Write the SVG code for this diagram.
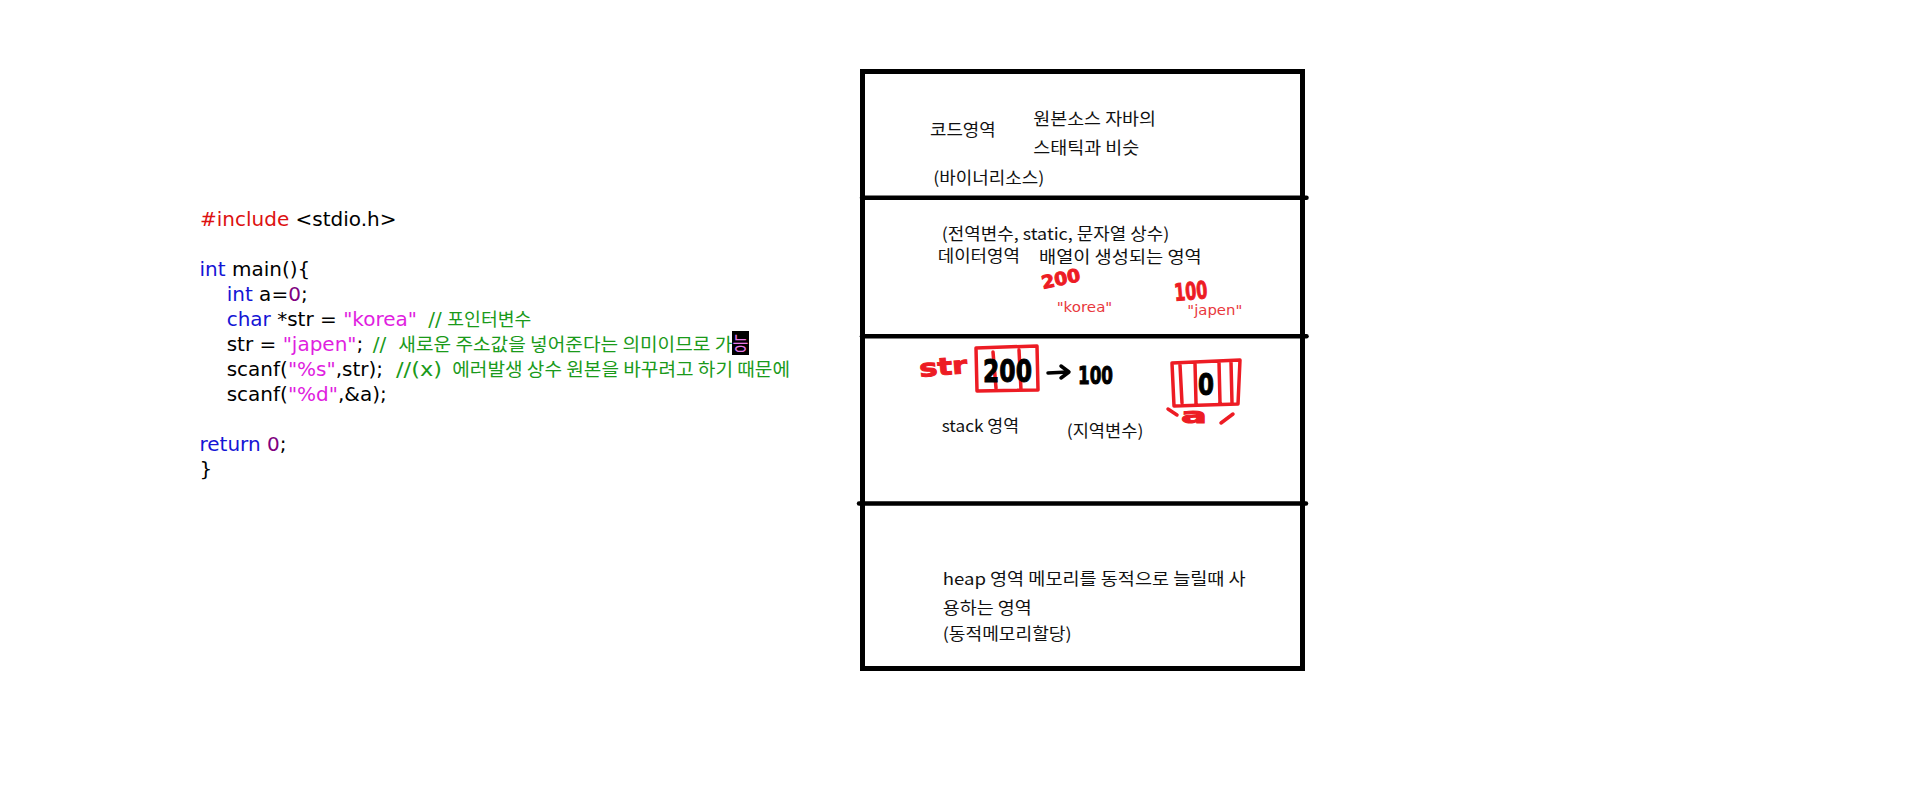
<svg xmlns="http://www.w3.org/2000/svg" width="1913" height="792" viewBox="0 0 1913 792">
<style>
.code{font-family:"DejaVu Sans","Noto Sans CJK KR",sans-serif;font-size:20px;fill:#000}
.kw{fill:#1515d5}
.pp{fill:#dd1111}
.str{fill:#e01ee0}
.num{fill:#800080}
.cm{fill:#1a9a1a;font-family:"DejaVu Sans","Noto Sans CJK KR",sans-serif;font-size:20px}
.cmk{fill:#1a9a1a;font-family:"Noto Sans CJK KR",sans-serif;font-size:18px}
.lbl{font-family:"Noto Sans CJK KR",sans-serif;font-size:16.5px;fill:#111}
.rlbl{font-family:"DejaVu Sans","Noto Sans CJK KR",sans-serif;font-size:14.5px;fill:#e8383d}
.hw{font-family:"DejaVu Sans",sans-serif;font-weight:bold}
.hwr{fill:#ed1c24;stroke:#ed1c24;stroke-width:1}
.hwb{fill:#000;stroke:#000;stroke-width:1}
.frame{fill:none;stroke:#000;stroke-width:5}
.div{stroke:#000;stroke-width:4.5;stroke-linecap:round}
.pen{fill:none;stroke:#ed1c24;stroke-width:3.5;stroke-linecap:round;stroke-linejoin:round}
</style>
<rect width="1913" height="792" fill="#fff"/>

<g id="code">
<text class="code" x="200" y="226"><tspan class="pp">#include</tspan> &lt;stdio.h&gt;</text>
<text class="code" x="199.5" y="276"><tspan class="kw">int</tspan> main(){</text>
<text class="code" x="226.7" y="301"><tspan class="kw">int</tspan> a=<tspan class="num">0</tspan>;</text>
<text class="code" x="226.7" y="326"><tspan class="kw">char</tspan> *str = <tspan class="str">"korea"</tspan></text>
<text class="cm" x="428.3" y="326">//</text>
<text class="cmk" x="447.3" y="326" textLength="84" lengthAdjust="spacingAndGlyphs">포인터변수</text>
<text class="code" x="226.7" y="351">str = <tspan class="str">"japen"</tspan>;</text>
<text class="cm" x="372.7" y="351">//</text>
<text class="cmk" x="398.3" y="351" textLength="334" lengthAdjust="spacingAndGlyphs">새로운 주소값을 넣어준다는 의미이므로 가</text>
<rect x="732" y="331" width="17" height="24" fill="#000"/>
<text x="732.5" y="350" font-family="Noto Sans CJK KR, sans-serif" font-size="18" fill="#e879e8" textLength="16" lengthAdjust="spacingAndGlyphs">능</text>
<text class="code" x="226.7" y="376">scanf(<tspan class="str">"%s"</tspan>,str);</text>
<text class="cm" x="396" y="376" textLength="46" lengthAdjust="spacingAndGlyphs">//(x)</text>
<text class="cmk" x="452.3" y="376" textLength="337.7" lengthAdjust="spacingAndGlyphs">에러발생 상수 원본을 바꾸려고 하기 때문에</text>
<text class="code" x="226.7" y="401">scanf(<tspan class="str">"%d"</tspan>,&amp;a);</text>
<text class="code" x="199.5" y="451"><tspan class="kw">return</tspan> <tspan class="num">0</tspan>;</text>
<text class="code" x="199.5" y="476">}</text>
</g>

<g id="memory">
<rect class="frame" x="862.5" y="71.5" width="440" height="597"/>
<line class="div" x1="862" y1="197.7" x2="1306.5" y2="197.7"/>
<line class="div" x1="862" y1="336.3" x2="1306.5" y2="336.3"/>
<line class="div" x1="859" y1="503.5" x2="1306" y2="503.5"/>
</g>

<g id="code-area">
<text class="lbl" x="930" y="136" textLength="65.7" lengthAdjust="spacingAndGlyphs">코드영역</text>
<text class="lbl" x="1033.3" y="125" textLength="122.7" lengthAdjust="spacingAndGlyphs">원본소스 자바의</text>
<text class="lbl" x="1033.3" y="154" textLength="106" lengthAdjust="spacingAndGlyphs">스태틱과 비슷</text>
<text class="lbl" x="933.3" y="184" textLength="111" lengthAdjust="spacingAndGlyphs">(바이너리소스)</text>
</g>

<g id="data-area">
<text class="lbl" x="941.7" y="240" textLength="227.6" lengthAdjust="spacingAndGlyphs">(전역변수, static, 문자열 상수)</text>
<text class="lbl" x="937.7" y="261.5" textLength="82.3" lengthAdjust="spacingAndGlyphs">데이터영역</text>
<text class="lbl" x="1039" y="262.5" textLength="162.7" lengthAdjust="spacingAndGlyphs">배열이 생성되는 영역</text>
<text class="hw hwr" x="1043" y="289" font-size="18" textLength="39" lengthAdjust="spacingAndGlyphs" transform="rotate(-12 1043 289)">200</text>
<text class="rlbl" x="1056.7" y="311.7" textLength="55.6" lengthAdjust="spacingAndGlyphs">"korea"</text>
<text class="hw hwr" x="1175" y="301" font-size="24" textLength="33" lengthAdjust="spacingAndGlyphs" transform="rotate(-5 1175 301)">100</text>
<text class="rlbl" x="1187.3" y="315" textLength="55" lengthAdjust="spacingAndGlyphs">"japen"</text>
</g>

<g id="stack-area">
<text class="hw hwr" x="920" y="377" font-size="24" textLength="48" lengthAdjust="spacingAndGlyphs" transform="rotate(-5 920 377)">str</text>
<path class="pen" d="M976,348 L1037,346 L1038,390 L977,391 Z M993,352 L996,388 M1019,350 L1021,390"/>
<text class="hw hwb" x="983" y="382" font-size="32" textLength="49" lengthAdjust="spacingAndGlyphs">200</text>
<text class="hw hwb" x="1078" y="384" font-size="25" textLength="35" lengthAdjust="spacingAndGlyphs">100</text>
<path class="pen" d="M1172,363 L1240,360 L1238,404 L1174,406 Z M1180,365 L1182,403 M1195,363 L1196,403 M1219,362 L1220,403 M1231,362 L1232,403"/>
<text class="hw hwb" x="1198" y="395" font-size="30" textLength="16" lengthAdjust="spacingAndGlyphs">0</text>
<path class="pen" d="M1168,409 L1177,415 M1221,423 L1233,414"/>
<text class="hw hwr" x="1181" y="423" font-size="22" textLength="26" lengthAdjust="spacingAndGlyphs">a</text>
<text class="lbl" x="941.7" y="431.7" textLength="77.3" lengthAdjust="spacingAndGlyphs">stack 영역</text>
<text class="lbl" x="1066.7" y="437" textLength="76.7" lengthAdjust="spacingAndGlyphs">(지역변수)</text>
</g>

<g id="heap-area">
<text class="lbl" x="942.7" y="585" textLength="303" lengthAdjust="spacingAndGlyphs">heap 영역 메모리를 동적으로 늘릴때 사</text>
<text class="lbl" x="942.7" y="614" textLength="89" lengthAdjust="spacingAndGlyphs">용하는 영역</text>
<text class="lbl" x="942.7" y="640" textLength="129" lengthAdjust="spacingAndGlyphs">(동적메모리할당)</text>
</g>

<g id="connectors">
<path d="M1048,373 L1068,372 M1061,366 L1069,372 L1061,378" fill="none" stroke="#000" stroke-width="3.5" stroke-linecap="round" stroke-linejoin="round"/>
</g>
</svg>
